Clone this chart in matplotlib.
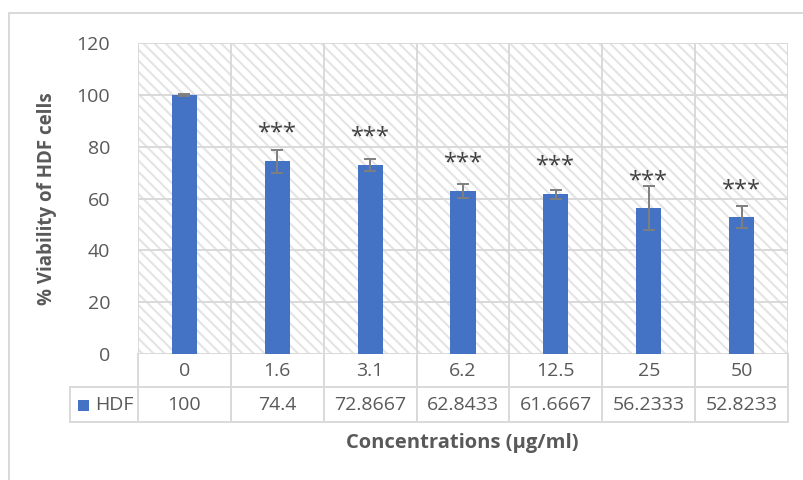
import matplotlib
matplotlib.use("Agg")
import matplotlib.pyplot as plt
from matplotlib.patches import Rectangle
from matplotlib.lines import Line2D
import matplotlib.transforms as mtransforms

categories = ["0", "1.6", "3.1", "6.2", "12.5", "25", "50"]
values = [100, 74.4, 72.8667, 62.8433, 61.6667, 56.2333, 52.8233]
value_labels = ["100", "74.4", "72.8667", "62.8433", "61.6667", "56.2333", "52.8233"]
errors = [0.3, 4.4, 2.4, 2.6, 1.8, 8.5, 4.3]
star_labels = ["", "***", "***", "***", "***", "***", "***"]
star_y = [None, 85, 83.5, 73.5, 72.3, 66.5, 63]
series_name = "HDF"

plt.rcParams['font.family'] = ['Open Sans', 'DejaVu Sans']
plt.rcParams['hatch.linewidth'] = 1.5
plt.rcParams['hatch.color'] = '#e4e4e4'

GRID = '#d9d9d9'
TXT = '#595959'
BLUE = '#4472C4'
FS = 14

fig = plt.figure(figsize=(8.04, 4.80), dpi=100)
ax = fig.add_axes([138/804, 126/480, 650/804, 311/480])

n = len(categories)
x = list(range(n))
ax.set_xlim(-0.5, n - 0.5)
ax.set_ylim(0, 120)

# hatched background
bg = Rectangle((0, 0), 1, 1, transform=ax.transAxes, facecolor='white',
               edgecolor='#e4e4e4', hatch='\\\\\\', linewidth=0, zorder=0)
ax.add_patch(bg)

ax.bar(x, values, width=0.27, color=BLUE, zorder=3)
ax.errorbar(x, values, yerr=errors, fmt='none', ecolor='#7f7f7f',
            elinewidth=1.4, capsize=4.5, capthick=1.4, zorder=4)

for xi, lab, sy in zip(x, star_labels, star_y):
    if lab:
        ax.text(xi, sy, lab, ha='center', va='center', fontsize=17,
                color='#404040', zorder=5)

for s in ax.spines.values():
    s.set_visible(False)

ax.set_yticks([0, 20, 40, 60, 80, 100, 120])
ax.set_xticks([k - 0.5 for k in range(n + 1)])
ax.set_xticklabels([])
ax.grid(True, color=GRID, linewidth=1.4, zorder=1)
ax.set_axisbelow(True)
ax.tick_params(axis='both', length=0, colors=TXT, labelsize=FS)
ax.tick_params(axis='y', pad=20)

# data table
trans = mtransforms.blended_transform_factory(ax.transData, ax.transAxes)
h = 311.0
r1 = -33 / h
r2 = -68 / h
xl = (70 - 138) / 650 * n - 0.5
lk = dict(color=GRID, linewidth=1.4, transform=trans, clip_on=False)
for k in range(n + 1):
    ax.add_line(Line2D([k - 0.5, k - 0.5], [0, r2], **lk))
ax.add_line(Line2D([xl, xl], [r1, r2], **lk))
ax.add_line(Line2D([xl, n - 0.5], [r1, r1], **lk))
ax.add_line(Line2D([xl, n - 0.5], [r2, r2], **lk))

for xi, c, v in zip(x, categories, value_labels):
    ax.text(xi, r1 / 2, c, transform=trans, ha='center', va='center',
            fontsize=FS, color=TXT)
    ax.text(xi, (r1 + r2) / 2, v, transform=trans, ha='center', va='center',
            fontsize=FS, color=TXT)

# legend key in table
fig.patches.append(Rectangle((78/804, (480-411)/480), 11/804, 11/480,
                             transform=fig.transFigure, facecolor=BLUE,
                             edgecolor='none'))
fig.text(95/804, (480-405)/480, series_name, ha='left', va='center',
         fontsize=FS, color=TXT)

# axis titles
fig.text(47/804, (480-199)/480, "% Viability of HDF cells", rotation=90,
         ha='center', va='center', fontsize=13.5, fontweight='bold', color=TXT)
fig.text(462/804, (480-443)/480, "Concentrations (µg/ml)", ha='center',
         va='center', fontsize=14.5, fontweight='bold', color=TXT)

# outer chart border
fig.lines.append(Line2D([9/804, 9/804], [0, (480-13)/480], color=GRID,
                        linewidth=1.4, transform=fig.transFigure))
fig.lines.append(Line2D([9/804, 1], [(480-13)/480, (480-13)/480], color=GRID,
                        linewidth=1.4, transform=fig.transFigure))

fig.savefig("out.png", dpi=100)
